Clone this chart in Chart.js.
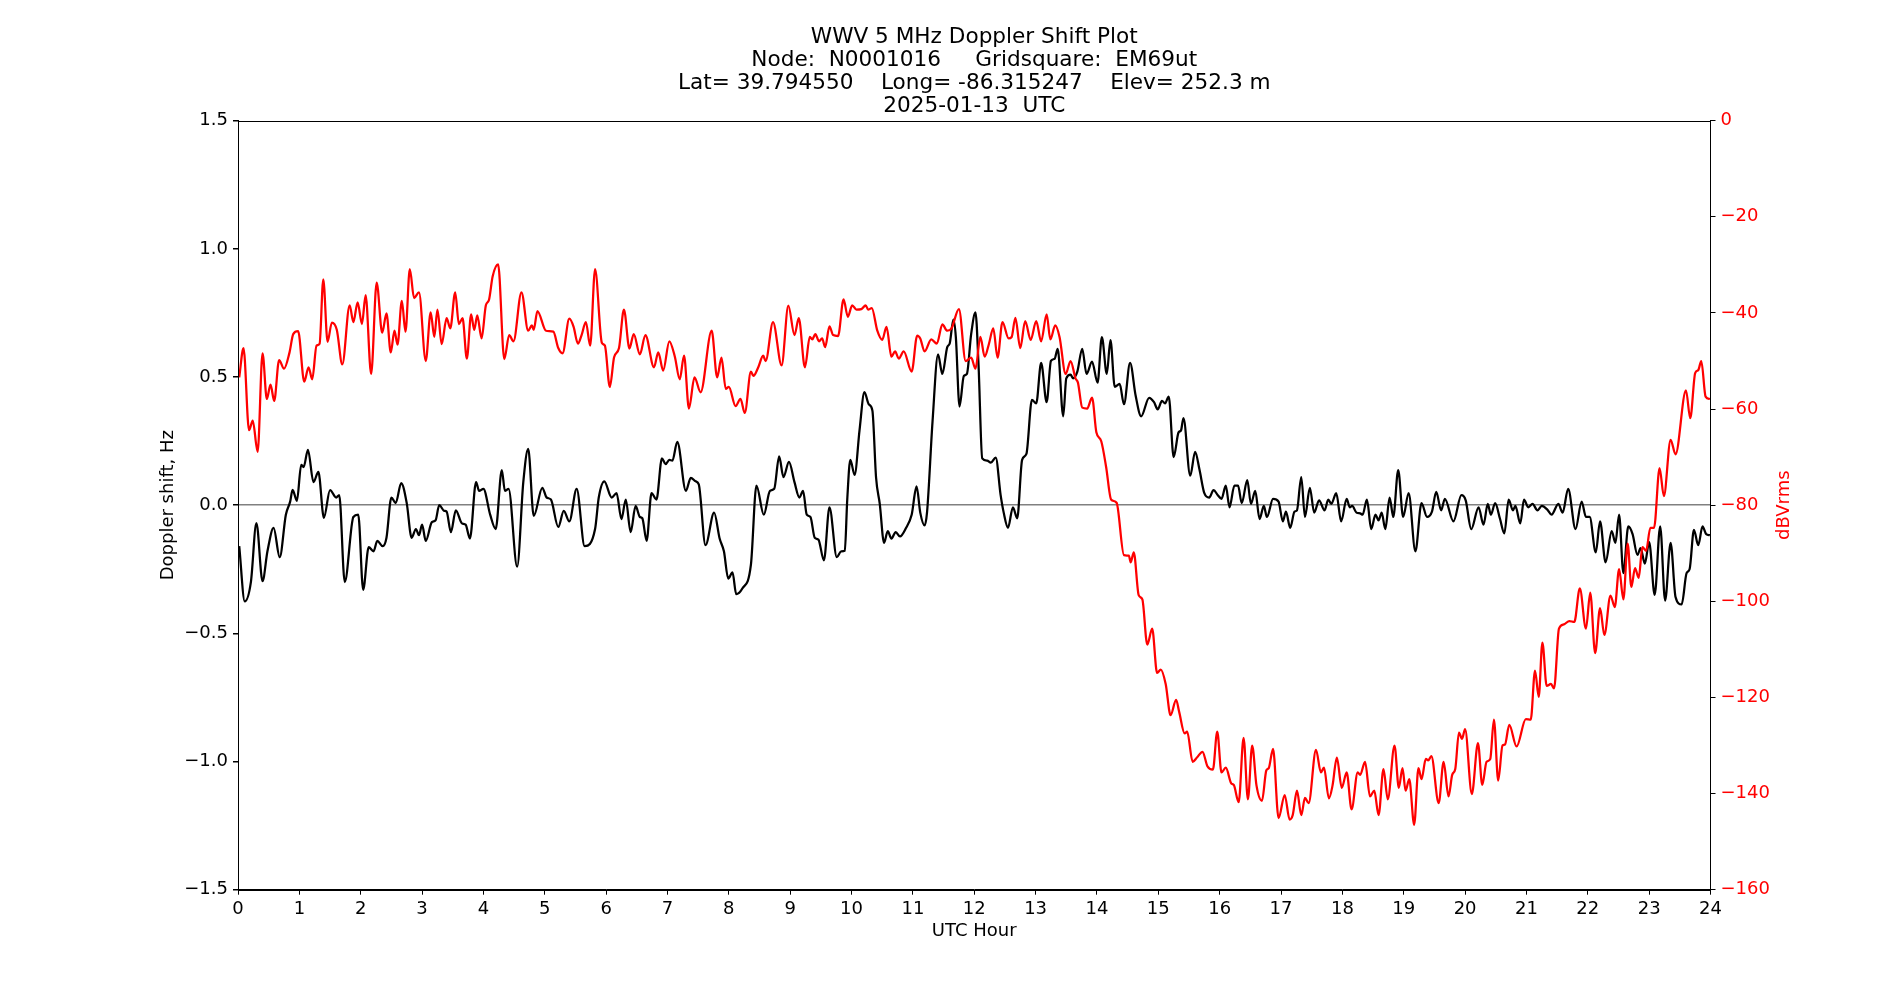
<!DOCTYPE html>
<html>
<head>
<meta charset="utf-8">
<script src="https://cdn.jsdelivr.net/npm/chart.js@4.4.1/dist/chart.umd.min.js"></script>
<style>
  body { margin: 0; background: #fff; }
  canvas { display: block; }
</style>
</head>
<body>
<canvas id="dopplerChart" width="1900" height="1000"></canvas>
<script>
const titleLines = [
  'WWV 5 MHz Doppler Shift Plot',
  'Node:  N0001016     Gridsquare:  EM69ut',
  'Lat= 39.794550    Long= -86.315247    Elev= 252.3 m',
  '2025-01-13  UTC'
];

// doppler shift (black, left axis)
const dopplerHours = [
  0.02, 0.11, 0.21, 0.30, 0.40, 0.48, 0.58, 0.68, 0.78, 0.85, 0.89, 0.96, 1.03, 1.07, 1.14, 1.23, 1.31, 1.40, 1.50, 1.60,
  1.65, 1.74, 1.88, 1.96, 2.04, 2.13, 2.21, 2.27, 2.36, 2.42, 2.50, 2.57, 2.66, 2.75, 2.83, 2.90, 2.95, 3.00, 3.06, 3.16,
  3.22, 3.28, 3.36, 3.40, 3.47, 3.55, 3.65, 3.71, 3.78, 3.88, 3.93, 4.00, 4.11, 4.20, 4.30, 4.35, 4.41, 4.55, 4.65, 4.73,
  4.82, 4.96, 5.03, 5.10, 5.22, 5.31, 5.40, 5.52, 5.65, 5.82, 5.88, 5.97, 6.09, 6.17, 6.25, 6.32, 6.40, 6.48, 6.55, 6.59,
  6.66, 6.74, 6.82, 6.91, 6.97, 7.03, 7.08, 7.16, 7.30, 7.38, 7.46, 7.51, 7.62, 7.76, 7.85, 7.92, 7.99, 8.06, 8.12, 8.22,
  8.36, 8.45, 8.57, 8.67, 8.74, 8.82, 8.89, 8.98, 9.07, 9.15, 9.21, 9.27, 9.33, 9.40, 9.46, 9.55, 9.64, 9.76, 9.83, 9.89,
  9.93, 9.98, 10.05, 10.13, 10.21, 10.28, 10.34, 10.40, 10.46, 10.53, 10.59, 10.65, 10.72, 10.79, 10.89, 10.98, 11.06, 11.12, 11.19, 11.23,
  11.32, 11.41, 11.48, 11.56, 11.60, 11.66, 11.70, 11.76, 11.83, 11.88, 11.95, 12.02, 12.07, 12.13, 12.21, 12.27, 12.35, 12.43, 12.48, 12.55,
  12.63, 12.70, 12.78, 12.85, 12.94, 13.01, 13.09, 13.18, 13.25, 13.31, 13.36, 13.45, 13.50, 13.57, 13.61, 13.68, 13.76, 13.83, 13.92, 14.01,
  14.08, 14.16, 14.22, 14.29, 14.37, 14.44, 14.54, 14.63, 14.72, 14.85, 14.93, 14.99, 15.06, 15.11, 15.17, 15.25, 15.33, 15.37, 15.41, 15.52,
  15.60, 15.67, 15.75, 15.83, 15.90, 15.97, 16.03, 16.10, 16.16, 16.24, 16.30, 16.36, 16.45, 16.51, 16.58, 16.65, 16.72, 16.77, 16.87, 16.96,
  17.03, 17.08, 17.15, 17.22, 17.26, 17.33, 17.39, 17.47, 17.54, 17.62, 17.71, 17.77, 17.82, 17.90, 17.98, 18.07, 18.12, 18.16, 18.23, 18.29,
  18.33, 18.40, 18.47, 18.54, 18.59, 18.64, 18.70, 18.77, 18.83, 18.91, 18.99, 19.08, 19.19, 19.29, 19.38, 19.46, 19.53, 19.61, 19.67, 19.81,
  19.94, 20.01, 20.10, 20.22, 20.30, 20.37, 20.42, 20.49, 20.57, 20.64, 20.71, 20.78, 20.82, 20.90, 20.96, 21.03, 21.10, 21.18, 21.25, 21.34,
  21.41, 21.52, 21.59, 21.68, 21.80, 21.90, 21.97, 22.03, 22.13, 22.20, 22.29, 22.39, 22.45, 22.51, 22.58, 22.66, 22.73, 22.81, 22.86, 22.93,
  23.00, 23.09, 23.18, 23.26, 23.35, 23.43, 23.53, 23.61, 23.66, 23.73, 23.80, 23.87, 23.93, 23.99
];
const dopplerHz = [
  -0.16, -0.375, -0.30, -0.07, -0.296, -0.18, -0.088, -0.203, -0.037, 0.014, 0.06, 0.017, 0.157, 0.149, 0.216, 0.09, 0.13, -0.049, 0.059, 0.03,
  0.039, -0.30, -0.046, -0.037, -0.33, -0.164, -0.18, -0.139, -0.16, -0.127, 0.03, 0.008, 0.086, 0.008, -0.127, -0.093, -0.117, -0.076, -0.139, -0.066,
  -0.059, 0.0, -0.022, -0.025, -0.105, -0.02, -0.071, -0.076, -0.13, 0.09, 0.056, 0.064, -0.037, -0.093, 0.137, 0.056, 0.064, -0.24, 0.09, 0.22,
  -0.042, 0.068, 0.03, 0.022, -0.085, -0.022, -0.063, 0.064, -0.16, -0.093, 0.03, 0.093, 0.03, 0.047, -0.054, 0.022, -0.105, -0.003, -0.046, -0.051,
  -0.139, 0.047, 0.022, 0.183, 0.16, 0.177, 0.174, 0.247, 0.056, 0.107, 0.093, 0.081, -0.156, -0.029, -0.13, -0.18, -0.286, -0.262, -0.347, -0.325,
  -0.232, 0.076, -0.037, 0.056, 0.064, 0.19, 0.11, 0.169, 0.09, 0.03, 0.056, -0.037, -0.046, -0.127, -0.134, -0.215, -0.008, -0.203, -0.18, -0.178,
  0.022, 0.177, 0.118, 0.292, 0.441, 0.394, 0.369, 0.107, 0.005, -0.147, -0.101, -0.13, -0.105, -0.122, -0.088, -0.037, 0.073, -0.029, -0.079, -0.029,
  0.326, 0.588, 0.512, 0.617, 0.631, 0.724, 0.656, 0.385, 0.504, 0.512, 0.668, 0.752, 0.546, 0.183, 0.174, 0.166, 0.186, 0.039, -0.029, -0.088,
  -0.008, -0.051, 0.177, 0.2, 0.411, 0.397, 0.555, 0.402, 0.563, 0.571, 0.61, 0.347, 0.495, 0.509, 0.495, 0.521, 0.61, 0.512, 0.56, 0.478,
  0.656, 0.512, 0.644, 0.462, 0.473, 0.394, 0.555, 0.428, 0.347, 0.419, 0.402, 0.374, 0.407, 0.397, 0.424, 0.188, 0.284, 0.292, 0.34, 0.115,
  0.208, 0.14, 0.047, 0.03, 0.059, 0.039, 0.025, 0.076, -0.008, 0.076, 0.076, 0.008, 0.098, 0.005, 0.056, -0.054, -0.003, -0.046, 0.025, 0.014,
  -0.063, -0.025, -0.088, -0.025, -0.02, 0.11, -0.046, 0.068, -0.029, 0.019, -0.02, 0.022, 0.005, 0.047, -0.063, 0.025, -0.008, -0.003, -0.029, -0.032,
  -0.037, 0.022, -0.093, -0.037, -0.059, -0.029, -0.093, 0.03, -0.046, 0.137, -0.046, 0.047, -0.18, 0.008, -0.046, -0.025, 0.052, -0.02, 0.025, -0.063,
  0.039, 0.019, -0.093, -0.008, -0.076, 0.005, -0.037, 0.008, -0.054, -0.11, 0.022, -0.02, -0.003, -0.071, 0.022, -0.008, 0.005, -0.02, -0.003, -0.017,
  -0.037, 0.005, -0.029, 0.064, -0.093, 0.014, -0.046, -0.046, -0.184, -0.063, -0.223, -0.101, -0.147, -0.037, -0.265, -0.083, -0.113, -0.194, -0.167, -0.228,
  -0.144, -0.35, -0.083, -0.372, -0.147, -0.358, -0.387, -0.265, -0.249, -0.096, -0.156, -0.083, -0.113, -0.117
];

// signal level (red, right axis)
const signalHours = [
  0.02, 0.09, 0.18, 0.24, 0.32, 0.40, 0.47, 0.53, 0.59, 0.67, 0.75, 0.84, 0.90, 0.98, 1.08, 1.15, 1.21, 1.28, 1.33, 1.39,
  1.46, 1.53, 1.61, 1.70, 1.82, 1.88, 1.95, 2.02, 2.08, 2.17, 2.26, 2.35, 2.42, 2.49, 2.55, 2.60, 2.67, 2.73, 2.80, 2.87,
  2.95, 3.06, 3.14, 3.20, 3.25, 3.32, 3.40, 3.46, 3.54, 3.60, 3.66, 3.73, 3.80, 3.85, 3.90, 3.97, 4.04, 4.09, 4.15, 4.24,
  4.34, 4.42, 4.49, 4.62, 4.73, 4.79, 4.82, 4.88, 5.02, 5.14, 5.22, 5.29, 5.40, 5.47, 5.54, 5.60, 5.67, 5.74, 5.82, 5.93,
  5.98, 6.06, 6.13, 6.21, 6.29, 6.38, 6.45, 6.55, 6.64, 6.78, 6.85, 6.93, 7.03, 7.12, 7.20, 7.27, 7.35, 7.44, 7.54, 7.72,
  7.81, 7.88, 7.95, 8.00, 8.11, 8.19, 8.26, 8.36, 8.40, 8.48, 8.56, 8.60, 8.72, 8.86, 8.97, 9.07, 9.14, 9.24, 9.32, 9.36,
  9.41, 9.47, 9.52, 9.57, 9.64, 9.70, 9.78, 9.87, 9.94, 10.01, 10.08, 10.16, 10.23, 10.27, 10.33, 10.42, 10.50, 10.57, 10.65, 10.71,
  10.77, 10.85, 10.98, 11.07, 11.12, 11.19, 11.30, 11.39, 11.48, 11.56, 11.63, 11.75, 11.86, 11.95, 12.02, 12.10, 12.17, 12.24, 12.31, 12.38,
  12.46, 12.56, 12.61, 12.67, 12.75, 12.83, 12.92, 13.01, 13.09, 13.18, 13.24, 13.32, 13.39, 13.49, 13.57, 13.65, 13.69, 13.76, 13.84, 13.92,
  13.99, 14.07, 14.15, 14.23, 14.32, 14.44, 14.52, 14.55, 14.60, 14.68, 14.74, 14.82, 14.90, 14.98, 15.04, 15.12, 15.20, 15.29, 15.34, 15.43,
  15.47, 15.56, 15.63, 15.72, 15.80, 15.89, 15.96, 16.03, 16.10, 16.19, 16.23, 16.31, 16.39, 16.46, 16.53, 16.60, 16.69, 16.76, 16.80, 16.87,
  16.96, 17.06, 17.14, 17.19, 17.26, 17.33, 17.39, 17.45, 17.57, 17.65, 17.70, 17.78, 17.84, 17.91, 17.99, 18.07, 18.15, 18.25, 18.29, 18.37,
  18.45, 18.52, 18.59, 18.67, 18.74, 18.85, 18.92, 18.98, 19.03, 19.09, 19.17, 19.24, 19.29, 19.36, 19.40, 19.45, 19.57, 19.65, 19.73, 19.79,
  19.84, 19.90, 19.95, 20.00, 20.11, 20.21, 20.28, 20.35, 20.41, 20.47, 20.54, 20.61, 20.65, 20.72, 20.84, 20.99, 21.07, 21.14, 21.20, 21.26,
  21.33, 21.40, 21.45, 21.53, 21.61, 21.70, 21.78, 21.87, 21.97, 22.04, 22.12, 22.20, 22.27, 22.37, 22.44, 22.51, 22.58, 22.65, 22.71, 22.77,
  22.83, 22.89, 22.95, 23.02, 23.08, 23.17, 23.24, 23.35, 23.43, 23.60, 23.67, 23.75, 23.80, 23.85, 23.92, 23.99
];
const signalDb = [
  -53.4, -47.3, -64.4, -62.4, -68.9, -48.4, -57.9, -54.9, -58.3, -49.8, -51.6, -48.2, -44.4, -43.8, -54.3, -51.3, -53.8, -46.8, -46.4, -33.0,
  -46.0, -42.0, -43.5, -50.7, -38.4, -41.9, -37.8, -42.3, -36.3, -52.7, -33.7, -44.1, -40.1, -48.2, -43.7, -46.6, -37.5, -43.9, -30.9, -36.9,
  -35.7, -50.0, -39.9, -45.0, -39.3, -46.5, -41.1, -43.2, -35.7, -42.3, -41.1, -49.5, -40.3, -43.5, -40.5, -45.3, -38.4, -37.3, -32.4, -29.9,
  -49.6, -44.6, -45.9, -35.7, -43.7, -42.6, -43.5, -39.6, -43.7, -43.9, -47.3, -48.4, -41.2, -42.9, -46.4, -44.6, -41.9, -46.8, -30.9, -46.2,
  -46.8, -55.4, -49.2, -47.3, -39.3, -47.4, -44.4, -48.6, -44.6, -51.3, -48.2, -52.0, -45.9, -49.1, -53.8, -48.9, -59.9, -53.4, -56.5, -43.7,
  -53.4, -49.3, -55.8, -55.4, -59.4, -57.9, -60.8, -52.2, -53.1, -51.3, -48.9, -50.0, -41.9, -50.9, -38.5, -44.6, -41.1, -51.3, -45.0, -45.5,
  -44.4, -45.9, -45.3, -47.1, -42.8, -44.6, -44.8, -37.2, -40.8, -38.4, -39.3, -39.2, -38.4, -39.3, -39.0, -43.7, -45.6, -42.9, -49.1, -48.0,
  -49.5, -48.0, -52.2, -44.7, -45.3, -48.0, -45.5, -46.4, -42.4, -43.7, -43.2, -39.2, -50.0, -49.3, -51.6, -45.0, -49.1, -46.4, -43.2, -49.3,
  -41.9, -45.3, -45.0, -41.0, -47.3, -41.7, -45.6, -41.7, -45.9, -40.3, -45.5, -42.6, -45.0, -52.7, -50.0, -53.6, -54.5, -59.7, -59.9, -57.6,
  -64.8, -66.7, -72.1, -78.8, -79.5, -90.4, -90.5, -91.9, -89.8, -98.7, -99.6, -109.0, -105.7, -114.9, -114.2, -117.2, -123.7, -120.5, -123.0, -127.5,
  -127.1, -133.4, -132.5, -131.3, -134.3, -135.0, -127.1, -135.6, -134.6, -137.9, -138.2, -141.8, -128.4, -141.2, -130.0, -138.3, -141.5, -135.2, -134.7, -130.7,
  -145.1, -140.3, -145.4, -144.5, -139.4, -144.5, -140.9, -142.0, -130.9, -135.6, -134.6, -141.0, -138.3, -132.5, -138.8, -135.6, -143.3, -135.6, -136.1, -133.4,
  -140.6, -139.4, -144.5, -134.9, -141.2, -130.0, -138.8, -134.7, -139.4, -137.0, -146.5, -134.7, -137.0, -132.8, -133.1, -132.2, -142.0, -133.4, -140.6, -136.1,
  -134.9, -127.3, -128.6, -126.6, -140.1, -129.5, -138.2, -133.4, -132.8, -124.6, -137.3, -130.0, -129.8, -125.7, -130.2, -124.5, -124.6, -114.4, -119.9, -108.6,
  -117.6, -117.2, -118.1, -105.7, -104.8, -104.1, -104.3, -97.3, -105.7, -98.2, -110.8, -101.4, -107.0, -98.8, -101.2, -93.3, -99.6, -88.0, -97.0, -93.1,
  -95.1, -88.7, -89.5, -84.7, -84.7, -72.3, -78.1, -66.4, -69.4, -56.1, -61.9, -52.5, -51.9, -50.0, -57.4, -57.9
];

const FONT = "'DejaVu Sans', sans-serif";
const LABEL_PX = 18;
const TITLE_PX = 21.6;
Chart.defaults.font.family = FONT;
Chart.defaults.font.size = LABEL_PX;
Chart.defaults.color = '#000';

function toPoints(xs, ys) {
  return xs.map((x, i) => ({ x: x, y: ys[i] }));
}

function minusSign(v, digits) {
  return v.toFixed(digits).replace('-', '\u2212');
}

// title, axis titles and the box round the plot
const decorations = {
  id: 'decorations',
  afterDraw(chart) {
    const ctx = chart.ctx;
    const area = chart.chartArea;
    ctx.save();
    ctx.strokeStyle = '#000';
    ctx.lineWidth = 1;
    ctx.strokeRect(Math.round(area.left) + 0.5, Math.round(area.top) + 0.5,
      Math.round(area.right - area.left) - 1, Math.round(area.bottom - area.top));

    const cx = (area.left + area.right) / 2;
    ctx.fillStyle = '#000';
    ctx.textAlign = 'center';
    ctx.textBaseline = 'middle';
    ctx.font = TITLE_PX + 'px ' + FONT;
    titleLines.forEach((line, i) => {
      ctx.fillText(line, cx, 37 + i * 23);
    });

    ctx.font = LABEL_PX + 'px ' + FONT;
    ctx.fillText('UTC Hour', cx, 931);

    const cy = (area.top + area.bottom) / 2;
    ctx.translate(168, cy);
    ctx.rotate(-Math.PI / 2);
    ctx.fillText('Doppler shift, Hz', 0, 0);
    ctx.restore();

    ctx.save();
    ctx.font = LABEL_PX + 'px ' + FONT;
    ctx.fillStyle = '#ff0000';
    ctx.textAlign = 'center';
    ctx.textBaseline = 'middle';
    ctx.translate(1784, cy);
    ctx.rotate(-Math.PI / 2);
    ctx.fillText('dBVrms', 0, 0);
    ctx.restore();
  }
};

const ctx = document.getElementById('dopplerChart').getContext('2d');

new Chart(ctx, {
  type: 'line',
  data: {
    datasets: [{
      label: 'Signal',
      data: toPoints(signalHours, signalDb),
      yAxisID: 'y1',
      borderColor: '#ff0000',
      borderWidth: 2.25,
      pointRadius: 0,
      cubicInterpolationMode: 'monotone',
      fill: false
    }, {
      label: 'Doppler',
      data: toPoints(dopplerHours, dopplerHz),
      yAxisID: 'y',
      borderColor: '#000000',
      borderWidth: 2.25,
      pointRadius: 0,
      cubicInterpolationMode: 'monotone',
      fill: false
    }]
  },
  options: {
    responsive: false,
    animation: false,
    devicePixelRatio: 1,
    events: [],
    layout: { padding: { top: 120.7, left: 0, right: 0, bottom: 0 } },
    plugins: {
      legend: { display: false },
      tooltip: { enabled: false },
      title: { display: false }
    },
    scales: {
      x: {
        type: 'linear',
        min: 0,
        max: 24,
        afterFit(scale) { scale.height = 110.3; },
        border: { color: '#000', width: 1 },
        grid: { drawOnChartArea: false, tickLength: 5, color: '#000' },
        ticks: { stepSize: 1, padding: 4, maxRotation: 0, autoSkip: false }
      },
      y: {
        position: 'left',
        min: -1.5,
        max: 1.5,
        afterFit(scale) { scale.width = 238; },
        border: { color: '#000', width: 1 },
        grid: {
          tickLength: 5,
          tickColor: '#000',
          lineWidth: 1.5,
          color: c => (c.tick && c.tick.value === 0) ? '#808080' : 'rgba(0,0,0,0)'
        },
        ticks: { stepSize: 0.5, padding: 5, callback: v => minusSign(v, 1) }
      },
      y1: {
        position: 'right',
        min: -160,
        max: 0,
        afterFit(scale) { scale.width = 189.5; },
        border: { color: '#000', width: 1 },
        grid: { drawOnChartArea: false, tickLength: 5, color: '#000' },
        ticks: { stepSize: 20, padding: 5, color: '#ff0000', callback: v => minusSign(v, 0) }
      }
    }
  },
  plugins: [decorations]
});
</script>
</body>
</html>
